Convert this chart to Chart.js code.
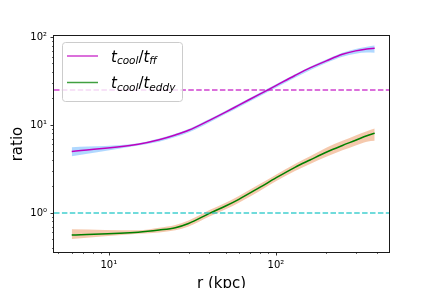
<!DOCTYPE html>
<html>
<head>
<meta charset="utf-8">
<script src="https://cdn.jsdelivr.net/npm/chart.js@4/dist/chart.umd.min.js"></script>
<style>
  body { margin: 0; background: #fff; }
  canvas { display: block; }
</style>
</head>
<body>
<canvas id="ratioChart" width="432" height="288"></canvas>
<script>
// Radius (kpc)
const radius = [6, 15, 20, 25, 30, 40, 50, 60, 80, 100, 130, 160, 200, 250, 300, 350, 390];

// t_cool / t_ff with its band
const ffRatio = [5.0, 6.05, 6.8, 7.7, 8.7, 11.3, 14.0, 16.8, 22.4, 28, 36.5, 44.5, 53.5, 63.5, 69.5, 73, 74.5];
const ffHigh  = [5.6, 6.2, 7.0, 7.95, 9.0, 11.7, 14.5, 17.4, 23.2, 29, 37.8, 46, 55.5, 66, 73, 77.5, 80];
const ffLow   = [4.4, 5.85, 6.45, 7.3, 8.2, 10.7, 13.3, 15.9, 21.2, 26.5, 34.5, 42, 50.5, 59.5, 64.5, 66.5, 66];

// t_cool / t_eddy with its band
const eddyRatio = [0.56, 0.605, 0.64, 0.68, 0.76, 0.99, 1.2, 1.43, 1.95, 2.5, 3.3, 4.0, 4.9, 5.85, 6.7, 7.55, 8.05];
const eddyHigh  = [0.655, 0.635, 0.68, 0.73, 0.82, 1.08, 1.31, 1.56, 2.13, 2.72, 3.6, 4.4, 5.5, 6.6, 7.6, 8.5, 9.1];
const eddyLow   = [0.505, 0.58, 0.6, 0.635, 0.70, 0.91, 1.1, 1.31, 1.78, 2.29, 3.0, 3.6, 4.35, 5.15, 5.85, 6.45, 6.6];

// Horizontal reference levels
const thresholds = [25, 1];
const thresholdColors = ['rgba(191,0,191,0.75)', 'rgba(0,191,191,0.75)'];

// Tick values
const xTicks = [5, 6, 7, 8, 9, 10, 20, 30, 40, 50, 60, 70, 80, 90, 100, 200, 300, 400];
const yTicks = [0.4, 0.5, 0.6, 0.7, 0.8, 0.9, 1, 2, 3, 4, 5, 6, 7, 8, 9, 10, 20, 30, 40, 50, 60, 70, 80, 90, 100];

const FONT = 'DejaVu Sans';
const sup = { '0': '\u2070', '1': '\u00b9', '2': '\u00b2', '3': '\u00b3', '-': '\u207b' };

function isPow10(v) {
    const l = Math.log10(v);
    return Math.abs(l - Math.round(l)) < 1e-9;
}

function powLabel(v) {
    if (!isPow10(v)) return '';
    const e = String(Math.round(Math.log10(v)));
    return '10' + e.split('').map(c => sup[c]).join('');
}

function points(ys) {
    return radius.map((r, i) => ({ x: r, y: ys[i] }));
}

function band(ys, fill, color) {
    return {
        data: points(ys),
        borderWidth: 0,
        borderColor: 'transparent',
        backgroundColor: color,
        pointRadius: 0,
        cubicInterpolationMode: 'monotone',
        fill: fill,
        order: 3
    };
}

// Frame, tick marks, reference lines, axis titles and legend
const decorations = {
    id: 'decorations',
    afterDatasetsDraw(chart) {
        const { ctx, chartArea: a, scales: { y } } = chart;
        ctx.save();
        ctx.beginPath();
        ctx.rect(a.left, a.top, a.right - a.left, a.bottom - a.top);
        ctx.clip();
        ctx.lineWidth = 1.5;
        ctx.setLineDash([5.5, 2.4]);
        thresholds.forEach((v, i) => {
            const py = y.getPixelForValue(v);
            ctx.strokeStyle = thresholdColors[i];
            ctx.beginPath();
            ctx.moveTo(a.left, py);
            ctx.lineTo(a.right, py);
            ctx.stroke();
        });
        ctx.restore();
    },
    afterDraw(chart) {
        const { ctx, chartArea: a, scales: { x, y } } = chart;
        ctx.save();

        // tick marks
        ctx.strokeStyle = '#000';
        xTicks.forEach(v => {
            const px = Math.round(x.getPixelForValue(v)) + 0.5;
            const len = isPow10(v) ? 3.5 : 2;
            ctx.lineWidth = isPow10(v) ? 0.8 : 0.6;
            ctx.beginPath();
            ctx.moveTo(px, a.bottom);
            ctx.lineTo(px, a.bottom + len);
            ctx.stroke();
        });
        yTicks.forEach(v => {
            const py = Math.round(y.getPixelForValue(v)) + 0.5;
            const len = isPow10(v) ? 3.5 : 2;
            ctx.lineWidth = isPow10(v) ? 0.8 : 0.6;
            ctx.beginPath();
            ctx.moveTo(a.left, py);
            ctx.lineTo(a.left - len, py);
            ctx.stroke();
        });

        // frame
        ctx.lineWidth = 1;
        ctx.strokeStyle = '#1a1a1a';
        ctx.strokeRect(a.left - 0.5, a.top - 0.5, a.right - a.left + 1, a.bottom - a.top + 1);

        // axis titles
        ctx.fillStyle = '#000';
        ctx.font = '15px ' + FONT;
        ctx.textAlign = 'center';
        ctx.textBaseline = 'top';
        ctx.fillText('r (kpc)', (a.left + a.right) / 2, 277);
        ctx.save();
        ctx.translate(11, (a.top + a.bottom) / 2);
        ctx.rotate(-Math.PI / 2);
        ctx.textBaseline = 'top';
        ctx.fillText('ratio', 0, 0);
        ctx.restore();

        // legend
        ctx.beginPath();
        ctx.roundRect(62.5, 42.5, 120, 59, 3);
        ctx.fillStyle = 'rgba(255,255,255,0.8)';
        ctx.fill();
        ctx.strokeStyle = '#cccccc';
        ctx.lineWidth = 1;
        ctx.stroke();

        const entries = [
            { color: 'rgba(191,0,191,0.75)', parts: [['t', 0], ['cool', 1], ['/', 2], ['t', 0], ['ff', 1]] },
            { color: 'rgba(0,128,0,0.75)', parts: [['t', 0], ['cool', 1], ['/', 2], ['t', 0], ['eddy', 1]] }
        ];
        entries.forEach((e, i) => {
            const cy = 56 + i * 26.5;
            ctx.strokeStyle = e.color;
            ctx.lineWidth = 1.5;
            ctx.beginPath();
            ctx.moveTo(67, cy);
            ctx.lineTo(98, cy);
            ctx.stroke();

            let tx = 111;
            ctx.fillStyle = '#000';
            ctx.textAlign = 'left';
            ctx.textBaseline = 'alphabetic';
            e.parts.forEach(([s, kind]) => {
                if (kind === 1) {
                    ctx.font = 'italic 10.5px ' + FONT;
                    ctx.fillText(s, tx, cy + 8);
                } else if (kind === 2) {
                    ctx.font = '15px ' + FONT;
                    ctx.fillText(s, tx, cy + 5.5);
                } else {
                    ctx.font = 'italic 15px ' + FONT;
                    ctx.fillText(s, tx, cy + 5.5);
                }
                tx += ctx.measureText(s).width;
            });
        });

        ctx.restore();
    }
};

new Chart(document.getElementById('ratioChart'), {
    type: 'line',
    data: {
        datasets: [
            band(ffLow, false, 'rgba(30,144,255,0.35)'),
            band(ffHigh, '-1', 'rgba(30,144,255,0.35)'),
            band(eddyLow, false, 'rgba(230,120,50,0.4)'),
            band(eddyHigh, '-1', 'rgba(230,120,50,0.4)'),
            {
                data: points(ffRatio),
                borderColor: '#bf00bf',
                borderWidth: 1.5,
                pointRadius: 0,
                cubicInterpolationMode: 'monotone',
                fill: false,
                order: 1
            },
            {
                data: points(eddyRatio),
                borderColor: '#008000',
                borderWidth: 1.5,
                pointRadius: 0,
                cubicInterpolationMode: 'monotone',
                fill: false,
                order: 1
            }
        ]
    },
    options: {
        responsive: false,
        animation: false,
        devicePixelRatio: 1,
        layout: { padding: { left: 0, right: 43, top: 36, bottom: 0 } },
        plugins: {
            legend: { display: false },
            tooltip: { enabled: false }
        },
        scales: {
            x: {
                type: 'logarithmic',
                min: 4.7,
                max: 475,
                afterBuildTicks: s => { s.ticks = xTicks.map(v => ({ value: v, major: isPow10(v) })); },
                afterFit: s => { s.height = 36; },
                grid: { display: false, drawTicks: false },
                border: { display: false },
                ticks: {
                    autoSkip: false,
                    maxRotation: 0,
                    padding: 7,
                    color: '#000',
                    font: { family: FONT, size: 10 },
                    callback: v => powLabel(v)
                }
            },
            y: {
                type: 'logarithmic',
                min: 0.36,
                max: 102.6,
                afterBuildTicks: s => { s.ticks = yTicks.map(v => ({ value: v, major: isPow10(v) })); },
                afterFit: s => { s.width = 54; },
                grid: { display: false, drawTicks: false },
                border: { display: false },
                ticks: {
                    autoSkip: false,
                    padding: 7,
                    color: '#000',
                    font: { family: FONT, size: 10 },
                    callback: v => powLabel(v)
                }
            }
        }
    },
    plugins: [decorations]
});
</script>
</body>
</html>
